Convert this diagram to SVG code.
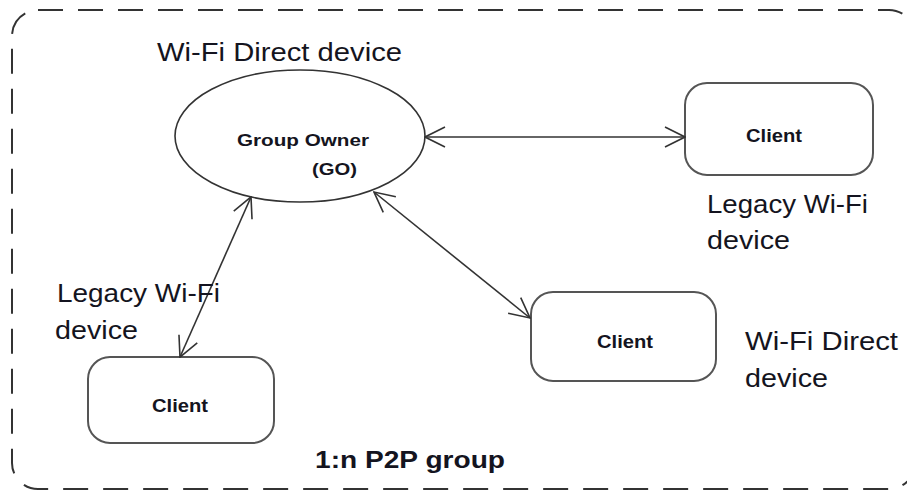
<svg xmlns="http://www.w3.org/2000/svg" width="907" height="491" viewBox="0 0 907 491">
<style>
.lbl{font-family:"Liberation Sans",Arial,sans-serif;font-size:26px;fill:#141420}
.bold{font-family:"Liberation Sans",Arial,sans-serif;font-weight:bold;fill:#141420}
.box{fill:#fff;stroke:#555;stroke-width:2}
.conn{stroke:#333;stroke-width:1.6;fill:none}
</style>
<defs>
<marker id="arr" viewBox="0 0 22 22" refX="21" refY="11" markerWidth="22" markerHeight="22" markerUnits="userSpaceOnUse" orient="auto-start-reverse">
<path d="M1,1 L21,11 L1,21" fill="none" stroke="#333" stroke-width="1.6"/>
</marker>
</defs>
<rect width="907" height="491" fill="#fff"/>
<rect id="group-border" x="12" y="10" width="903" height="479" rx="26" fill="none" stroke="#333" stroke-width="2" stroke-dasharray="25 15"/>
<g id="go">
<ellipse cx="300" cy="136" rx="125" ry="66" fill="#fff" stroke="#333" stroke-width="1.6"/>
<text class="bold" x="237" y="146" font-size="17" textLength="132" lengthAdjust="spacingAndGlyphs">Group Owner</text>
<text class="bold" x="312" y="175" font-size="17" textLength="45" lengthAdjust="spacingAndGlyphs">(GO)</text>
</g>
<g id="client-legacy-right">
<rect class="box" x="685" y="83" width="188" height="92" rx="22"/>
<text class="bold" x="746" y="142" font-size="18" textLength="56" lengthAdjust="spacingAndGlyphs">Client</text>
</g>
<g id="client-direct">
<rect class="box" x="531" y="292" width="185" height="89" rx="22"/>
<text class="bold" x="597" y="348" font-size="18" textLength="56" lengthAdjust="spacingAndGlyphs">Client</text>
</g>
<g id="client-legacy-left">
<rect class="box" x="88" y="357" width="186" height="86" rx="22"/>
<text class="bold" x="152" y="412" font-size="18" textLength="56" lengthAdjust="spacingAndGlyphs">Client</text>
</g>
<g id="connectors">
<line class="conn" x1="425" y1="137" x2="685" y2="137" marker-start="url(#arr)" marker-end="url(#arr)"/>
<line class="conn" x1="251" y1="197" x2="180" y2="357" marker-start="url(#arr)" marker-end="url(#arr)"/>
<line class="conn" x1="374" y1="192" x2="530" y2="318" marker-start="url(#arr)" marker-end="url(#arr)"/>
</g>
<g id="labels">
<text class="lbl" x="157" y="61" textLength="245" lengthAdjust="spacingAndGlyphs">Wi-Fi Direct device</text>
<text class="lbl" x="707" y="213" textLength="161" lengthAdjust="spacingAndGlyphs">Legacy Wi-Fi</text>
<text class="lbl" x="707" y="249" textLength="83" lengthAdjust="spacingAndGlyphs">device</text>
<text class="lbl" x="57" y="302" textLength="163" lengthAdjust="spacingAndGlyphs">Legacy Wi-Fi</text>
<text class="lbl" x="55" y="339" textLength="83" lengthAdjust="spacingAndGlyphs">device</text>
<text class="lbl" x="745" y="350" textLength="153" lengthAdjust="spacingAndGlyphs">Wi-Fi Direct</text>
<text class="lbl" x="745" y="387" textLength="83" lengthAdjust="spacingAndGlyphs">device</text>
<text class="bold" x="315" y="468" font-size="23" textLength="190" lengthAdjust="spacingAndGlyphs">1:n P2P group</text>
</g>
</svg>
